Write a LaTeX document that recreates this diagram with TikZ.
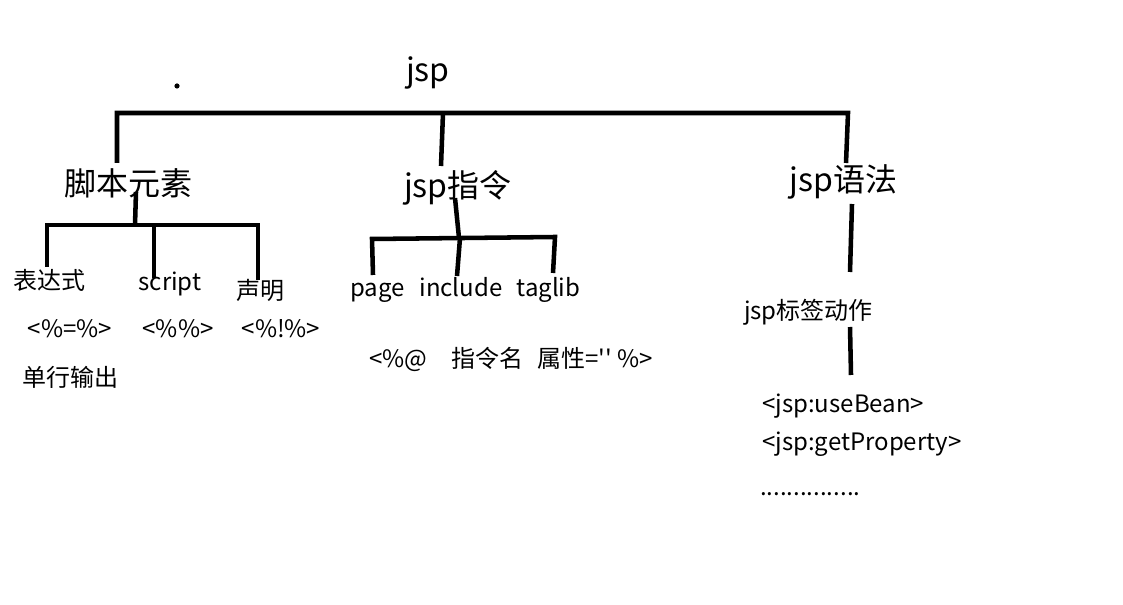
\documentclass[tikz,border=0pt]{standalone}
\usepackage{fontspec}
\setmainfont{Noto Sans CJK SC}
\newfontfamily\cjkplain{Noto Sans CJK SC}
\begin{document}
\begin{tikzpicture}[x=0.75pt,y=-0.75pt,
  big/.style={inner sep=0pt,font=\cjkplain\fontsize{24}{28}\selectfont},
  small/.style={inner sep=0pt,font=\cjkplain\fontsize{18}{22}\selectfont},
  conn/.style={line width=3.4pt,line join=miter}]
\useasboundingbox (0,0) rectangle (1123,605);
% top
\node[big] (jsp) at (428,73) {jsp};
\fill (177,86) circle (2.6);
\node[big] (jb) at (128.5,183) {脚本元素};
\node[big] (zl) at (458,188) {jsp指令};
\node[big] (yf) at (843.5,182) {jsp语法};
\coordinate (tL) at (117,163);
\coordinate (tM) at (441,166);
\coordinate (tR) at (846,163);
\coordinate (mM) at (443,113);
\draw[conn] (tL) -- (117,113) -- (848,113) -- (tR);
\draw[conn] (mM) -- (tM);
% script elements subtree
\node[small] (bds) at (49,280) {表达式};
\node[small,anchor=base] (scr) at (170,291) {script};
\node[small] (sm) at (260,290) {声明};
\node[small] (e1) at (70,329) {<\%=\%>};
\node[small] (e2) at (178,329) {<\%\%>};
\node[small] (e3) at (281,329) {<\%!\%>};
\node[small] (dh) at (70,377) {单行输出};
\coordinate (jbS) at (136,192);
\coordinate (jbB) at (135,225);
\coordinate (b1) at (47,267);
\coordinate (b2) at (154,278);
\coordinate (b3) at (258,280);
\draw[conn] (jbS) -- (jbB);
\draw[conn] (b1) -- (47,225) -- (258,225) -- (b3);
\draw[conn] (154,225) -- (b2);
% directive subtree
\node[small,anchor=base] (pg) at (377.5,297) {page};
\node[small,anchor=base] (inc) at (461,297) {include};
\node[small,anchor=base] (tl) at (548.5,297) {taglib};
\node[small,anchor=base] (syn) at (511,368) {<\%@\hspace{1em}指令名\hspace{0.6em}属性=\char39\char39\ \%>};
\coordinate (zlS) at (455,198);
\coordinate (p1) at (373,275);
\coordinate (p2) at (457,276);
\coordinate (p3) at (553,273);
\draw[conn] (zlS) -- (459,238);
\draw[conn] (p1) -- (372,239) -- (555,237) -- (p3);
\draw[conn] (460,238) -- (p2);
% syntax subtree
\node[small] (bq) at (808.5,312) {jsp标签动作};
\node[small,anchor=base west] (ub) at (762,412) {<jsp:useBean>};
\node[small,anchor=base west] (gp) at (762,450) {<jsp:getProperty>};
\node[small,anchor=base west] (dots) at (760,495) {...............};
\coordinate (yS) at (852,204);
\coordinate (yE) at (850,272);
\coordinate (qS) at (850,327);
\coordinate (qE) at (851,375);
\draw[conn] (yS) -- (yE);
\draw[conn] (qS) -- (qE);
\end{tikzpicture}
\end{document}
